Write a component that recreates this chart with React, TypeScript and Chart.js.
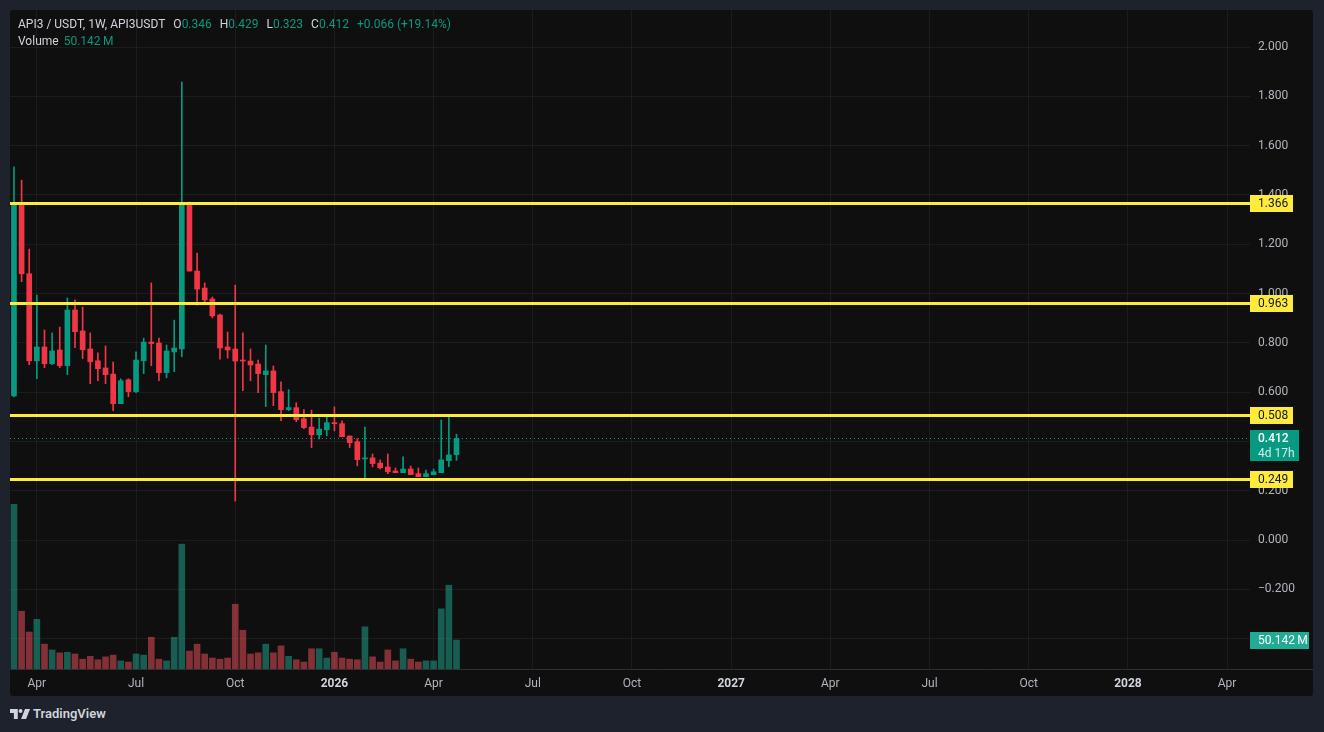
import React, { useEffect, useRef } from 'react';
import { Chart, registerables } from 'chart.js';

Chart.register(...registerables);

// ---- data (weekly candles, first week = 2025-03-10) ----
const opens = [0.585, 1.37, 1.08, 0.727, 0.783, 0.715, 0.771, 0.707, 0.933, 0.848, 0.775, 0.727, 0.698, 0.673, 0.553, 0.65, 0.602, 0.727, 0.803, 0.799, 0.679, 0.763, 0.775, 1.367, 1.091, 1.022, 0.978, 0.913, 0.783, 0.775, 0.73, 0.726, 0.714, 0.671, 0.686, 0.602, 0.529, 0.537, 0.492, 0.458, 0.427, 0.447, 0.476, 0.472, 0.422, 0.399, 0.329, 0.333, 0.312, 0.296, 0.28, 0.273, 0.288, 0.269, 0.257, 0.265, 0.273, 0.322, 0.346];
const highs = [1.514, 1.46, 1.18, 0.994, 0.852, 0.84, 0.864, 0.982, 0.974, 0.945, 0.84, 0.759, 0.787, 0.722, 0.654, 0.654, 0.763, 0.819, 1.043, 0.819, 0.791, 0.892, 1.858, 1.371, 1.164, 1.043, 0.986, 0.917, 0.844, 1.034, 0.84, 0.775, 0.73, 0.791, 0.706, 0.642, 0.61, 0.557, 0.529, 0.527, 0.495, 0.499, 0.54, 0.483, 0.422, 0.411, 0.458, 0.349, 0.325, 0.349, 0.292, 0.337, 0.3, 0.292, 0.284, 0.288, 0.487, 0.507, 0.429];
const lows = [0.58, 1.048, 0.711, 0.654, 0.699, 0.711, 0.699, 0.671, 0.78, 0.736, 0.634, 0.646, 0.634, 0.525, 0.553, 0.581, 0.598, 0.675, 0.707, 0.646, 0.658, 0.683, 0.744, 1.091, 0.953, 0.961, 0.901, 0.734, 0.738, 0.158, 0.606, 0.646, 0.598, 0.541, 0.545, 0.484, 0.525, 0.48, 0.452, 0.375, 0.41, 0.423, 0.443, 0.419, 0.375, 0.301, 0.249, 0.297, 0.288, 0.269, 0.273, 0.273, 0.265, 0.257, 0.257, 0.265, 0.273, 0.297, 0.323];
const closes = [1.37, 1.08, 0.727, 0.783, 0.715, 0.767, 0.707, 0.933, 0.845, 0.772, 0.723, 0.695, 0.671, 0.553, 0.646, 0.602, 0.73, 0.803, 0.797, 0.679, 0.767, 0.779, 1.367, 1.091, 1.018, 0.974, 0.909, 0.779, 0.771, 0.726, 0.726, 0.71, 0.675, 0.686, 0.598, 0.529, 0.537, 0.488, 0.456, 0.427, 0.45, 0.476, 0.472, 0.419, 0.395, 0.326, 0.333, 0.31, 0.293, 0.277, 0.273, 0.288, 0.265, 0.257, 0.269, 0.277, 0.325, 0.345, 0.412];
const volumes = [285, 100, 64, 86, 43, 33, 28, 29, 26, 17, 22, 16, 21, 24, 14, 12, 26, 24, 55, 17, 14, 55, 216, 31, 43, 26, 19, 17, 19, 112, 67, 26, 28, 43, 28, 40, 22, 16, 12, 35, 35, 19, 29, 19, 17, 16, 73, 21, 12, 33, 14, 35, 17, 12, 14, 14, 104, 145, 50.142];

const levelPrices = [1.366, 0.963, 0.508, 0.249];
const lastPrice = 0.412;
const lastVolume = 50.142;
const countdownLabel = '4d 17h';
const priceTicks = [-0.4, -0.2, 0, 0.2, 0.4, 0.6, 0.8, 1.0, 1.2, 1.4, 1.6, 1.8, 2.0];
const timeTickWeeks = [3, 16, 29, 42, 55, 68, 81, 94, 107, 120, 133, 146, 159];
const timeTickLabels = ['Apr', 'Jul', 'Oct', '2026', 'Apr', 'Jul', 'Oct', '2027', 'Apr', 'Jul', 'Oct', '2028', 'Apr'];

const UP = '#089981';
const DOWN = '#f23645';
const VOL_UP = 'rgba(34,171,148,0.5)';
const VOL_DOWN = 'rgba(247,82,95,0.5)';
const LEVEL = '#ffeb3b';
const GRID = 'rgba(242,242,242,0.06)';
const AXIS_TEXT = '#b2b5be';
const FONT = 'Roboto, "Noto Sans", sans-serif';

const fmtPrice = (v: number) => (v < 0 ? '\u2212' : '') + Math.abs(v).toFixed(3);

const zeroPadding = (s: any) => {
  s.paddingTop = 0;
  s.paddingBottom = 0;
  s.paddingLeft = 0;
  s.paddingRight = 0;
};

const overlayPlugin = {
  id: 'tvOverlay',
  afterDatasetsDraw(chart: any) {
    const { ctx, chartArea, scales } = chart;
    const y = scales.y;
    ctx.save();
    // current price dotted line
    const py = Math.round(y.getPixelForValue(lastPrice)) + 0.5;
    ctx.setLineDash([1, 3]);
    ctx.strokeStyle = UP;
    ctx.lineWidth = 1;
    ctx.beginPath();
    ctx.moveTo(chartArea.left, py);
    ctx.lineTo(chartArea.right, py);
    ctx.stroke();
    // horizontal levels
    ctx.setLineDash([]);
    ctx.strokeStyle = LEVEL;
    ctx.lineWidth = 3;
    levelPrices.forEach((p) => {
      const ly = Math.round(y.getPixelForValue(p)) + 0.5;
      ctx.beginPath();
      ctx.moveTo(chartArea.left, ly);
      ctx.lineTo(chartArea.right, ly);
      ctx.stroke();
    });
    ctx.restore();
  },
  afterDraw(chart: any) {
    const { ctx, chartArea, scales, width } = chart;
    const y = scales.y;
    const yv = scales.yv;
    const x0 = chartArea.right;
    ctx.save();
    // time axis border across full width
    ctx.strokeStyle = '#2e3038';
    ctx.lineWidth = 1;
    ctx.beginPath();
    ctx.moveTo(0, Math.round(chartArea.bottom) + 0.5);
    ctx.lineTo(width, Math.round(chartArea.bottom) + 0.5);
    ctx.stroke();

    ctx.textBaseline = 'middle';
    ctx.textAlign = 'left';
    ctx.font = `12px ${FONT}`;
    // level labels
    levelPrices.forEach((p) => {
      const ly = Math.round(y.getPixelForValue(p));
      ctx.fillStyle = LEVEL;
      ctx.fillRect(x0, ly - 8, 43, 17);
      ctx.fillStyle = '#131722';
      ctx.fillText(p.toFixed(3), x0 + 8, ly + 1);
    });
    // current price label
    const py = Math.round(y.getPixelForValue(lastPrice));
    ctx.fillStyle = UP;
    ctx.fillRect(x0, py - 8, 49, 31);
    ctx.fillStyle = '#ffffff';
    ctx.font = `500 12px ${FONT}`;
    ctx.fillText(lastPrice.toFixed(3), x0 + 8, py + 1);
    ctx.fillStyle = 'rgba(255,255,255,0.82)';
    ctx.font = `12px ${FONT}`;
    ctx.fillText(countdownLabel, x0 + 8, py + 16);
    // volume label
    const vy = Math.round(yv.getPixelForValue(lastVolume));
    ctx.fillStyle = '#22ab94';
    ctx.fillRect(x0, vy - 8, 59, 17);
    ctx.fillStyle = '#ffffff';
    ctx.fillText(lastVolume.toFixed(3) + '\u2009M', x0 + 8, vy + 1);
    ctx.restore();
  },
};

function TVLogo() {
  return (
    <svg width="20" height="10" viewBox="0 0 36 18" style={{ display: 'block' }}>
      <path d="M0 0h14v18H7V7H0z" fill="#d1d4dc" />
      <circle cx="19" cy="3.5" r="3.5" fill="#d1d4dc" />
      <path d="M27 0h9l-7 18h-9z" fill="#d1d4dc" />
    </svg>
  );
}

export default function App() {
  const canvasRef = useRef<HTMLCanvasElement | null>(null);

  useEffect(() => {
    const canvas = canvasRef.current;
    if (!canvas) return;
    Chart.defaults.font.family = FONT;
    const isUp = closes.map((c, i) => c >= opens[i]);
    const chart = new Chart(canvas, {
      type: 'bar',
      data: {
        datasets: [
          {
            label: 'Volume',
            data: volumes.map((v, i) => ({ x: i, y: v })) as any,
            backgroundColor: isUp.map((u) => (u ? VOL_UP : VOL_DOWN)),
            barThickness: 6,
            grouped: false,
            yAxisID: 'yv',
            order: 3,
            borderWidth: 0,
          },
          {
            label: 'Wicks',
            data: lows.map((l, i) => ({ x: i, y: [l, highs[i]] })) as any,
            backgroundColor: isUp.map((u) => (u ? UP : DOWN)),
            barThickness: 1,
            grouped: false,
            yAxisID: 'y',
            order: 2,
            borderWidth: 0,
          },
          {
            label: 'Bodies',
            data: opens.map((o, i) => ({ x: i, y: [o, closes[i]] })) as any,
            backgroundColor: isUp.map((u) => (u ? UP : DOWN)),
            barThickness: 5,
            minBarLength: 1,
            grouped: false,
            yAxisID: 'y',
            order: 1,
            borderWidth: 0,
          },
        ],
      },
      options: {
        animation: false,
        responsive: true,
        maintainAspectRatio: false,
        layout: { padding: 0 },
        plugins: { legend: { display: false }, tooltip: { enabled: false } },
        events: [],
        scales: {
          x: {
            type: 'linear',
            min: -0.52,
            max: 162.0,
            offset: false,
            grid: { color: GRID, drawTicks: false, offset: false },
            border: { display: false },
            afterBuildTicks: (s: any) => {
              s.ticks = timeTickWeeks.map((v) => ({ value: v }));
            },
            afterFit: (s: any) => {
              s.height = 27;
              zeroPadding(s);
            },
            ticks: {
              autoSkip: false,
              maxRotation: 0,
              padding: 8,
              color: (c: any) => (/^\d{4}$/.test(timeTickLabels[c.index] || '') ? '#d1d4dc' : AXIS_TEXT),
              font: (c: any) => ({
                family: FONT,
                size: 12,
                weight: /^\d{4}$/.test(timeTickLabels[c.index] || '') ? 'bold' : 'normal',
              }),
              callback: (_v: any, i: number) => timeTickLabels[i],
            },
          },
          y: {
            type: 'linear',
            position: 'right',
            min: -0.5233,
            max: 2.1501,
            grid: { color: GRID, drawTicks: false },
            border: { display: false },
            afterBuildTicks: (s: any) => {
              s.ticks = priceTicks.map((v) => ({ value: v }));
            },
            afterFit: (s: any) => {
              s.width = 63;
              zeroPadding(s);
            },
            ticks: {
              padding: 8,
              color: AXIS_TEXT,
              font: { family: FONT, size: 12 },
              callback: (v: any) => fmtPrice(Number(v)),
            },
          },
          yv: {
            type: 'linear',
            position: 'right',
            display: false,
            min: 0,
            max: 1140,
            afterFit: (s: any) => {
              zeroPadding(s);
            },
          },
        },
      },
      plugins: [overlayPlugin],
    } as any);
    return () => chart.destroy();
  }, []);

  const label: React.CSSProperties = { color: '#d1d4dc' };
  const val: React.CSSProperties = { color: UP };

  return (
    <div
      style={{
        position: 'fixed',
        left: 0,
        top: 0,
        width: 1324,
        height: 732,
        background: '#1e222d',
        fontFamily: FONT,
        overflow: 'hidden',
      }}
    >
      <div
        style={{
          position: 'absolute',
          left: 10,
          top: 10,
          width: 1303,
          height: 686,
          background: '#0f0f0f',
          borderRadius: 3,
          overflow: 'hidden',
        }}
      >
        <canvas ref={canvasRef} />
        <div
          style={{
            position: 'absolute',
            left: 8,
            top: 6,
            fontSize: 12,
            lineHeight: '17px',
            whiteSpace: 'nowrap',
            pointerEvents: 'none',
          }}
        >
          <div>
            <span style={label}>API3 / USDT, 1W, API3USDT</span>
            <span style={{ ...label, marginLeft: 8 }}>O</span>
            <span style={val}>0.346</span>
            <span style={{ ...label, marginLeft: 8 }}>H</span>
            <span style={val}>0.429</span>
            <span style={{ ...label, marginLeft: 8 }}>L</span>
            <span style={val}>0.323</span>
            <span style={{ ...label, marginLeft: 8 }}>C</span>
            <span style={val}>0.412</span>
            <span style={{ ...val, marginLeft: 8 }}>+0.066 (+19.14%)</span>
          </div>
          <div>
            <span style={label}>Volume</span>
            <span style={{ ...val, marginLeft: 5 }}>50.142{'\u2009'}M</span>
          </div>
        </div>
      </div>
      <div
        style={{
          position: 'absolute',
          left: 10,
          top: 707,
          display: 'flex',
          alignItems: 'center',
          gap: 3,
          color: '#d1d4dc',
          fontSize: 13,
          fontWeight: 600,
          lineHeight: '14px',
        }}
      >
        <TVLogo />
        <span>TradingView</span>
      </div>
    </div>
  );
}
